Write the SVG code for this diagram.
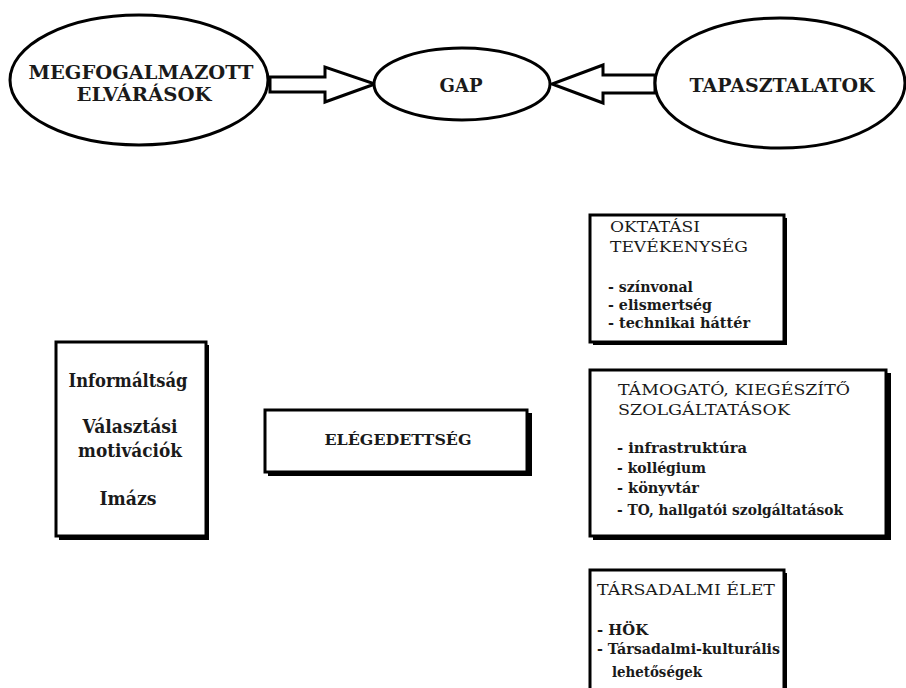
<svg xmlns="http://www.w3.org/2000/svg" width="906" height="688" viewBox="0 0 906 688">
<style>
.ell{fill:#fff;stroke:#000;stroke-width:3}
.box{fill:#fff;stroke:#000;stroke-width:3}
.sh{fill:#000}
.arr{fill:#fff;stroke:#000;stroke-width:3;stroke-linejoin:miter}
text{fill:#1a1a1a;font-family:"DejaVu Serif",serif}
.b{font-weight:bold}
.e{font-size:18px;font-weight:bold}
.h{font-size:15px}
.i{font-size:15px;font-weight:bold}
.l{font-size:18px;font-weight:bold}
</style>
<rect width="906" height="688" fill="#fff"/>
<g id="connectors">
<polygon class="arr" points="270,77 325,77 325,67 375,84 325,102 325,92 270,92"/>
<polygon class="arr" points="655,75 603,75 603,65 552,84 603,103 603,93 655,93"/>
</g>
<g id="node-elvarasok">
<ellipse class="ell" cx="139" cy="80" rx="129" ry="65"/>
<text class="e" x="141" y="79" text-anchor="middle" textLength="225" lengthAdjust="spacingAndGlyphs">MEGFOGALMAZOTT</text>
<text class="e" x="144" y="101" text-anchor="middle" textLength="135" lengthAdjust="spacingAndGlyphs">ELVÁRÁSOK</text>
</g>
<g id="node-gap">
<ellipse class="ell" cx="462" cy="84" rx="88" ry="36"/>
<text class="e" x="461" y="92" text-anchor="middle" textLength="43" lengthAdjust="spacingAndGlyphs">GAP</text>
</g>
<g id="node-tapasztalatok">
<ellipse class="ell" cx="780" cy="83" rx="125" ry="65"/>
<text class="e" x="782" y="92" text-anchor="middle" textLength="185" lengthAdjust="spacingAndGlyphs">TAPASZTALATOK</text>
</g>
<g id="node-oktatasi">
<rect class="sh" x="593" y="218" width="194" height="127"/>
<rect class="box" x="590" y="215" width="194" height="127"/>
<text class="h" x="610" y="232" textLength="90" lengthAdjust="spacingAndGlyphs">OKTATÁSI</text>
<text class="h" x="610" y="252" textLength="138" lengthAdjust="spacingAndGlyphs">TEVÉKENYSÉG</text>
<text class="i" x="608" y="292" textLength="85" lengthAdjust="spacingAndGlyphs">- színvonal</text>
<text class="i" x="608" y="310" textLength="104" lengthAdjust="spacingAndGlyphs">- elismertség</text>
<text class="i" x="608" y="328" textLength="142" lengthAdjust="spacingAndGlyphs">- technikai háttér</text>
</g>
<g id="node-tamogato">
<rect class="sh" x="593" y="373" width="298" height="167"/>
<rect class="box" x="590" y="370" width="296" height="166"/>
<text class="h" x="618" y="395" textLength="232" lengthAdjust="spacingAndGlyphs">TÁMOGATÓ, KIEGÉSZÍTŐ</text>
<text class="h" x="618" y="415" textLength="172" lengthAdjust="spacingAndGlyphs">SZOLGÁLTATÁSOK</text>
<text class="i" x="617" y="453" textLength="130" lengthAdjust="spacingAndGlyphs">- infrastruktúra</text>
<text class="i" x="617" y="473" textLength="89" lengthAdjust="spacingAndGlyphs">- kollégium</text>
<text class="i" x="617" y="493" textLength="82" lengthAdjust="spacingAndGlyphs">- könyvtár</text>
<text class="i" x="617" y="515" textLength="226" lengthAdjust="spacingAndGlyphs">- TO, hallgatói szolgáltatások</text>
</g>
<g id="node-tarsadalmi">
<rect class="sh" x="593" y="573" width="194" height="130"/>
<rect class="box" x="590" y="570" width="194" height="130"/>
<text class="h" x="597" y="595" textLength="178" lengthAdjust="spacingAndGlyphs">TÁRSADALMI ÉLET</text>
<text class="i" x="597" y="635" textLength="51" lengthAdjust="spacingAndGlyphs">- HÖK</text>
<text class="i" x="597" y="654" textLength="183" lengthAdjust="spacingAndGlyphs">- Társadalmi-kulturális</text>
<text class="i" x="612" y="677" textLength="90" lengthAdjust="spacingAndGlyphs">lehetőségek</text>
</g>
<g id="node-informaltsag">
<rect class="sh" x="59" y="345" width="150" height="195"/>
<rect class="box" x="56" y="342" width="150" height="194"/>
<text class="l" x="128" y="387" text-anchor="middle" textLength="119" lengthAdjust="spacingAndGlyphs">Informáltság</text>
<text class="l" x="130" y="433" text-anchor="middle" textLength="95" lengthAdjust="spacingAndGlyphs">Választási</text>
<text class="l" x="130" y="457" text-anchor="middle" textLength="104" lengthAdjust="spacingAndGlyphs">motivációk</text>
<text class="l" x="128" y="505" text-anchor="middle" textLength="57" lengthAdjust="spacingAndGlyphs">Imázs</text>
</g>
<g id="node-elegedettseg">
<rect class="sh" x="268" y="413" width="264" height="63"/>
<rect class="box" x="265" y="410" width="262" height="62"/>
<text class="h b" x="398" y="445" text-anchor="middle" textLength="147" lengthAdjust="spacingAndGlyphs">ELÉGEDETTSÉG</text>
</g>
</svg>
